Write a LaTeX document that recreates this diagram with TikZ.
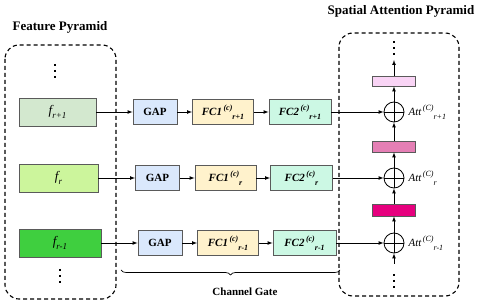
\documentclass[tikz,border=0pt]{standalone}
\usepackage{fontspec}
\setmainfont{Liberation Serif}
\usetikzlibrary{positioning,decorations.pathreplacing}
\definecolor{featA}{HTML}{D3E8CF}
\definecolor{featB}{HTML}{CCF59C}
\definecolor{featC}{HTML}{3FCF3F}
\definecolor{gapcol}{HTML}{DAE8FC}
\definecolor{fconecol}{HTML}{FFF2CC}
\definecolor{fctwocol}{HTML}{CCF8E4}
\definecolor{barA}{HTML}{F9D4F5}
\definecolor{barB}{HTML}{E57FB5}
\definecolor{barC}{HTML}{E6007E}
\definecolor{edge}{HTML}{5A5A5A}
% index macros: superscript then subscript
\newcommand{\supsub}[2]{\kern1.5pt\raisebox{0.5em}{\fontsize{8}{9}\selectfont #1}\raisebox{-0.35em}{\fontsize{8}{9}\selectfont #2}}
\newcommand{\lowsub}[1]{\raisebox{-0.3em}{\fontsize{9}{10}\selectfont #1}}
\begin{document}
\begin{tikzpicture}[x=1pt,y=-1pt,
    blk/.style={draw=edge,line width=0.8pt,inner sep=0pt,minimum height=25pt},
    featbox/.style={blk,minimum height=28pt,font=\fontsize{13}{15}\selectfont\itshape},
    gapbox/.style={blk,fill=gapcol,minimum width=44pt,font=\fontsize{11}{13}\selectfont\bfseries},
    fcone/.style={blk,fill=fconecol,minimum width=61pt,font=\fontsize{11}{13}\selectfont\bfseries\itshape},
    fctwo/.style={blk,fill=fctwocol,minimum width=62pt,font=\fontsize{11}{13}\selectfont\bfseries\itshape},
    attbar/.style={draw=edge,line width=0.8pt,minimum width=43pt,minimum height=11pt,inner sep=0pt},
    oplus/.style={circle,draw=black,line width=0.8pt,minimum size=20pt,inner sep=0pt,
      path picture={\draw[line width=0.8pt] (path picture bounding box.north) -- (path picture bounding box.south)
        (path picture bounding box.west) -- (path picture bounding box.east);}},
    attlab/.style={font=\fontsize{11}{13}\selectfont\itshape,inner sep=0pt},
    pyr/.style={draw=black,line width=1.1pt,dash pattern=on 4pt off 3pt,rounded corners=14pt},
    vdotline/.style={line width=2.2pt,dash pattern=on 2.2pt off 3.8pt},
    title/.style={font=\fontsize{13}{15}\selectfont\bfseries},
    conn/.style={-latex,line width=0.7pt}]
\useasboundingbox[fill=white] (0,0) rectangle (480,307);
% pyramids
\draw[pyr] (5,45) rectangle (116,299);
\draw[pyr] (339,33) rectangle (459,296);
\node[title] (ftitle) at (60,27) {Feature Pyramid};
\node[title] (stitle) at (401,11) {Spatial Attention Pyramid};
% feature levels
\node[featbox,fill=featA,minimum width=77pt] (feat1) at (57.5,112) {f\lowsub{r+1}};
\node[featbox,fill=featB,minimum width=79pt] (feat2) at (58.5,178) {f\lowsub{r}};
\node[featbox,fill=featC,minimum width=82pt] (feat3) at (60,243) {f\lowsub{r-1}};
\draw[vdotline] (55,64) -- (55,78);
\draw[vdotline] (60,269) -- (60,283);
% channel gate
\node[gapbox] (gap1) at (155,112) {GAP};
\node[gapbox] (gap2) at (157.5,178) {GAP};
\node[gapbox] (gap3) at (160,243) {GAP};
\node[fcone] (fca1) at (223,112) {FC1\supsub{(c)}{r+1}};
\node[fcone] (fca2) at (225.5,178) {FC1\supsub{(c)}{r}};
\node[fcone] (fca3) at (228,243) {FC1\supsub{(c)}{r-1}};
\node[fctwo] (fcb1) at (300,112) {FC2\supsub{(c)}{r+1}};
\node[fctwo] (fcb2) at (301.5,178) {FC2\supsub{(c)}{r}};
\node[fctwo,minimum width=63pt] (fcb3) at (304.5,243) {FC2\supsub{(c)}{r-1}};
% attention
\node[oplus] (circ1) at (394,112) {};
\node[oplus] (circ2) at (394,178) {};
\node[oplus] (circ3) at (394,243) {};
\node[attlab,right=4pt of circ1] (att1) {Att\supsub{(C)}{r+1}};
\node[attlab,right=4pt of circ2] (att2) {Att\supsub{(C)}{r}};
\node[attlab,right=4pt of circ3] (att3) {Att\supsub{(C)}{r-1}};
\node[attbar,fill=barA,minimum height=10pt] (bar1) at (394,81) {};
\node[attbar,fill=barB] (bar2) at (394,146.5) {};
\node[attbar,fill=barC,minimum height=12pt] (bar3) at (394,210) {};
\draw[vdotline] (394,41) -- (394,55);
\draw[vdotline] (394,274) -- (394,288);
\coordinate (toptip) at (394,60);
\coordinate (bottail) at (394,264);
% connectors
\foreach \i in {1,2,3} {
  \draw[conn] (feat\i) -- (gap\i);
  \draw[conn] (gap\i) -- (fca\i);
  \draw[conn] (fca\i) -- (fcb\i);
  \draw[conn] (fcb\i) -- (circ\i);
}
\draw[conn] (bar1) -- (toptip);
\draw[conn] (circ1) -- (bar1);
\draw[conn] (bar2) -- (circ1);
\draw[conn] (circ2) -- (bar2);
\draw[conn] (bar3) -- (circ2);
\draw[conn] (circ3) -- (bar3);
\draw[conn] (bottail) -- (circ3);
% brace
\coordinate (bl) at (121,270);
\coordinate (br) at (340,270);
\draw[line width=0.7pt,decorate,decoration={brace,mirror,amplitude=5pt}] (bl) -- (br);
\node[font=\fontsize{11}{13}\selectfont\bfseries] (cgate) at (245,292) {Channel Gate};
\end{tikzpicture}
\end{document}
